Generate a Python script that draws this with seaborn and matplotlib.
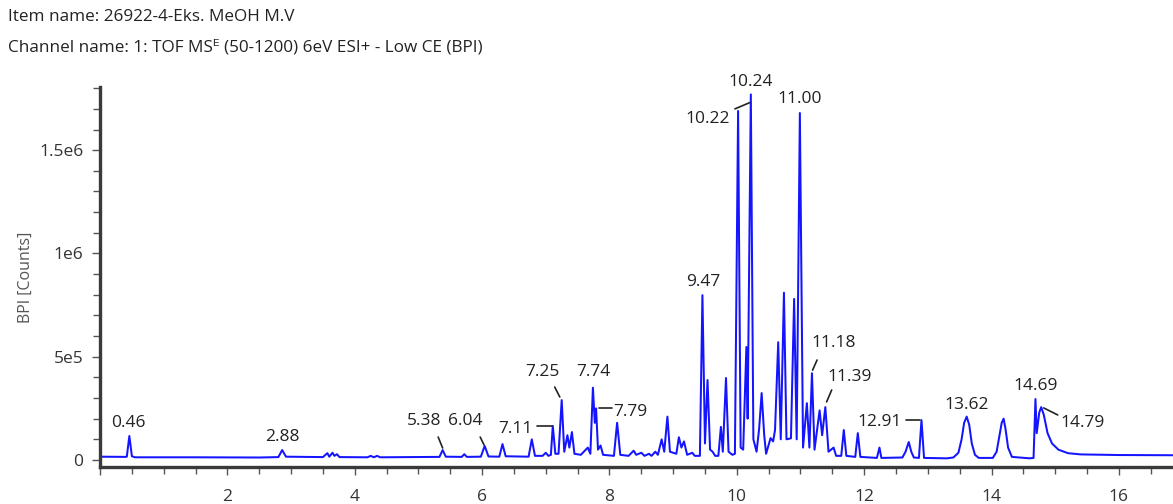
import matplotlib
matplotlib.use("Agg")
import matplotlib.pyplot as plt
import seaborn as sns
import pandas as pd
from matplotlib.ticker import MultipleLocator, FuncFormatter

# ---- data (retention time [min], BPI counts) ----
rt = [0.00, 0.40, 0.42, 0.46, 0.50, 0.55, 1.50, 2.50, 2.80, 2.86, 2.92,
      3.50, 3.57, 3.60, 3.65, 3.68, 3.72, 3.76, 4.20, 4.25, 4.30, 4.35, 4.40,
      5.00, 5.33, 5.38, 5.43, 5.68, 5.72, 5.76, 5.98, 6.04, 6.10,
      6.27, 6.32, 6.37, 6.73, 6.78, 6.83, 6.95, 7.00, 7.04,
      7.08, 7.11, 7.15, 7.20, 7.25, 7.29, 7.34, 7.37, 7.41, 7.45,
      7.55, 7.66, 7.70, 7.74, 7.77, 7.79, 7.82, 7.86, 7.90,
      8.07, 8.12, 8.17, 8.30, 8.38, 8.42, 8.50, 8.55, 8.62, 8.66, 8.72, 8.76,
      8.82, 8.86, 8.91, 8.95, 9.05, 9.09, 9.13, 9.17, 9.22, 9.30, 9.34,
      9.42, 9.46, 9.50, 9.54, 9.58, 9.62, 9.66, 9.71, 9.75, 9.78, 9.83, 9.87,
      9.93, 9.97, 10.02, 10.06, 10.10, 10.15, 10.17, 10.22, 10.26, 10.31,
      10.35, 10.39, 10.43, 10.46, 10.53, 10.57, 10.60, 10.65, 10.69, 10.74, 10.78, 10.85,
      10.90, 10.94, 10.99, 11.04, 11.10, 11.14, 11.18, 11.22, 11.30, 11.34,
      11.39, 11.44, 11.52, 11.56, 11.64, 11.68, 11.72, 11.86, 11.90, 11.94,
      12.20, 12.24, 12.27, 12.60, 12.65, 12.70, 12.74, 12.78, 12.86, 12.90, 12.94,
      13.30, 13.40, 13.48, 13.53, 13.57, 13.61, 13.65, 13.69, 13.74, 13.80,
      14.02, 14.08, 14.12, 14.16, 14.19, 14.22, 14.26, 14.32,
      14.60, 14.66, 14.69, 14.71, 14.75, 14.78, 14.82, 14.88, 14.95,
      15.05, 15.20, 15.40, 16.00, 16.85]
bpi = [1.6e4, 1.5e4, 1.6e4, 1.16e5, 1.8e4, 1.3e4, 1.3e4, 1.2e4, 1.4e4, 4.8e4, 1.6e4,
       1.4e4, 3.3e4, 1.6e4, 3.5e4, 2.0e4, 2.8e4, 1.4e4, 1.3e4, 2.0e4, 1.3e4, 2.0e4, 1.3e4,
       1.4e4, 1.5e4, 4.8e4, 1.6e4, 1.5e4, 2.8e4, 1.5e4, 1.6e4, 6.8e4, 1.7e4,
       1.6e4, 7.7e4, 1.8e4, 1.6e4, 1.0e5, 2.0e4, 2.0e4, 3.5e4, 2.0e4,
       2.5e4, 1.65e5, 3.0e4, 3.0e4, 2.9e5, 4.0e4, 1.2e5, 6.0e4, 1.35e5, 3.0e4,
       2.5e4, 6.0e4, 3.0e4, 3.5e5, 1.8e5, 2.5e5, 5.0e4, 7.0e4, 2.5e4,
       2.0e4, 1.8e5, 2.5e4, 2.0e4, 4.5e4, 2.5e4, 3.5e4, 2.0e4, 3.0e4, 2.0e4, 4.0e4, 2.5e4,
       1.0e5, 4.0e4, 2.1e5, 4.0e4, 3.0e4, 1.1e5, 6.0e4, 9.0e4, 2.5e4, 3.5e4, 2.0e4,
       2.0e4, 7.98e5, 8.0e4, 3.87e5, 5.0e4, 4.0e4, 2.0e4, 2.0e4, 1.6e5, 4.0e4, 3.97e5, 4.0e4,
       2.5e4, 3.0e4, 1.69e6, 6.0e4, 5.0e4, 5.47e5, 2.0e5, 1.77e6, 1.0e5, 4.0e4,
       1.5e5, 3.24e5, 1.2e5, 3.0e4, 1.06e5, 9.0e4, 1.45e5, 5.7e5, 1.0e5, 8.1e5, 1.0e5, 1.05e5,
       7.8e5, 1.0e5, 1.68e6, 6.0e4, 2.75e5, 6.0e4, 4.2e5, 5.0e4, 2.4e5, 1.2e5,
       2.56e5, 4.0e4, 6.0e4, 2.0e4, 2.0e4, 1.45e5, 2.0e4, 1.5e4, 1.3e5, 1.5e4,
       1.0e4, 6.0e4, 1.0e4, 1.2e4, 4.0e4, 8.7e4, 4.0e4, 1.2e4, 1.0e4, 1.93e5, 1.0e4,
       8.0e3, 1.2e4, 3.5e4, 1.0e5, 1.8e5, 2.1e5, 1.7e5, 8.0e4, 2.5e4, 1.0e4,
       1.0e4, 4.0e4, 1.1e5, 1.8e5, 2.0e5, 1.5e5, 6.0e4, 1.5e4,
       8.0e3, 1.0e4, 2.95e5, 1.3e5, 2.3e5, 2.56e5, 2.2e5, 1.3e5, 8.0e4,
       5.0e4, 3.3e4, 2.7e4, 2.4e4, 2.3e4]

# peak annotations: label text, label centre (rt, counts)
peak_labels = ["0.46", "2.88", "5.38", "6.04", "7.11", "7.25", "7.74", "7.79",
               "9.47", "10.22", "10.24", "11.00", "11.18", "11.39", "12.91",
               "13.62", "14.69", "14.79"]
label_rt = [0.44, 2.86, 5.09, 5.73, 6.53, 6.94, 7.74, 8.33,
            9.47, 9.55, 10.22, 10.99, 11.52, 11.77, 12.24,
            13.61, 14.69, 15.43]
label_counts = [1.79e5, 1.11e5, 1.89e5, 1.89e5, 1.50e5, 4.26e5, 4.26e5, 2.32e5,
                8.60e5, 1.65e6, 1.83e6, 1.75e6, 5.66e5, 4.00e5, 1.84e5,
                2.66e5, 3.58e5, 1.79e5]
# leader lines (start rt, start counts, end rt, end counts)
leader_x0 = [5.31, 5.97, 6.86, 7.14, 7.83, 9.97, 11.26, 11.49, 12.65, 14.82]
leader_y0 = [1.11e5, 1.11e5, 1.64e5, 3.53e5, 2.52e5, 1.70e6, 4.84e5, 3.39e5, 1.94e5, 2.52e5]
leader_x1 = [5.38, 6.03, 7.10, 7.22, 8.04, 10.20, 11.19, 11.41, 12.87, 15.04]
leader_y1 = [5.8e4, 7.3e4, 1.64e5, 3.05e5, 2.52e5, 1.73e6, 4.35e5, 2.81e5, 1.94e5, 2.18e5]

title_lines = ["Item name: 26922-4-Eks. MeOH M.V",
               "Channel name: 1: TOF MS\u1d31 (50-1200) 6eV ESI+ - Low CE (BPI)"]
y_label = "BPI [Counts]"

# ---- plotting ----
sns.set_theme(style="ticks")
plt.rcParams["font.family"] = ["Open Sans", "DejaVu Sans"]

fig = plt.figure(figsize=(11.73, 5.04), dpi=100)
ax = fig.add_axes([0.0853, 0.0734, 0.9147, 0.7536])

df = pd.DataFrame({"rt": rt, "bpi": bpi})
sns.lineplot(data=df, x="rt", y="bpi", ax=ax, color="#1414ff", linewidth=1.45,
             estimator=None, sort=False)

ax.set_xlim(0, 16.85)
ax.set_ylim(-3.4e4, 1.805e6)

ax.xaxis.set_major_locator(MultipleLocator(2))
ax.xaxis.set_minor_locator(MultipleLocator(0.5))
ax.yaxis.set_major_locator(MultipleLocator(5e5))
ax.yaxis.set_minor_locator(MultipleLocator(1e5))

def yfmt(v, pos):
    lut = {0: "0", 5e5: "5e5", 1e6: "1e6", 1.5e6: "1.5e6"}
    return lut.get(v, "")
ax.yaxis.set_major_formatter(FuncFormatter(yfmt))
ax.xaxis.set_major_formatter(FuncFormatter(lambda v, p: "%d" % v if v > 0 else ""))

for s in ["top", "right"]:
    ax.spines[s].set_visible(False)
for s in ["left", "bottom"]:
    ax.spines[s].set_color("#3a3a3a")
    ax.spines[s].set_linewidth(2.4)

ax.tick_params(axis="both", which="major", length=6, width=1.0, color="#555555",
               labelsize=12.5, labelcolor="#333333", direction="out")
ax.tick_params(axis="x", which="major", pad=10)
ax.tick_params(axis="y", which="major", pad=6)
ax.tick_params(axis="both", which="minor", length=5, width=1.0, color="#555555",
               direction="out")

ax.set_xlabel("")
ax.set_ylabel(y_label, fontsize=11.5, color="#555555", labelpad=4)

for t, x, y in zip(peak_labels, label_rt, label_counts):
    ax.text(x, y, t, ha="center", va="center", fontsize=12.5, color="#222222",
            clip_on=False)
for x0, y0, x1, y1 in zip(leader_x0, leader_y0, leader_x1, leader_y1):
    ax.plot([x0, x1], [y0, y1], color="#222222", linewidth=1.2)

fig.text(8 / 1173, 1 - 17 / 504, title_lines[0], ha="left", va="center",
         fontsize=12.3, color="#222222")
fig.text(8 / 1173, 1 - 47 / 504, title_lines[1], ha="left", va="center",
         fontsize=12.3, color="#222222")

fig.savefig("out.png", dpi=100)
